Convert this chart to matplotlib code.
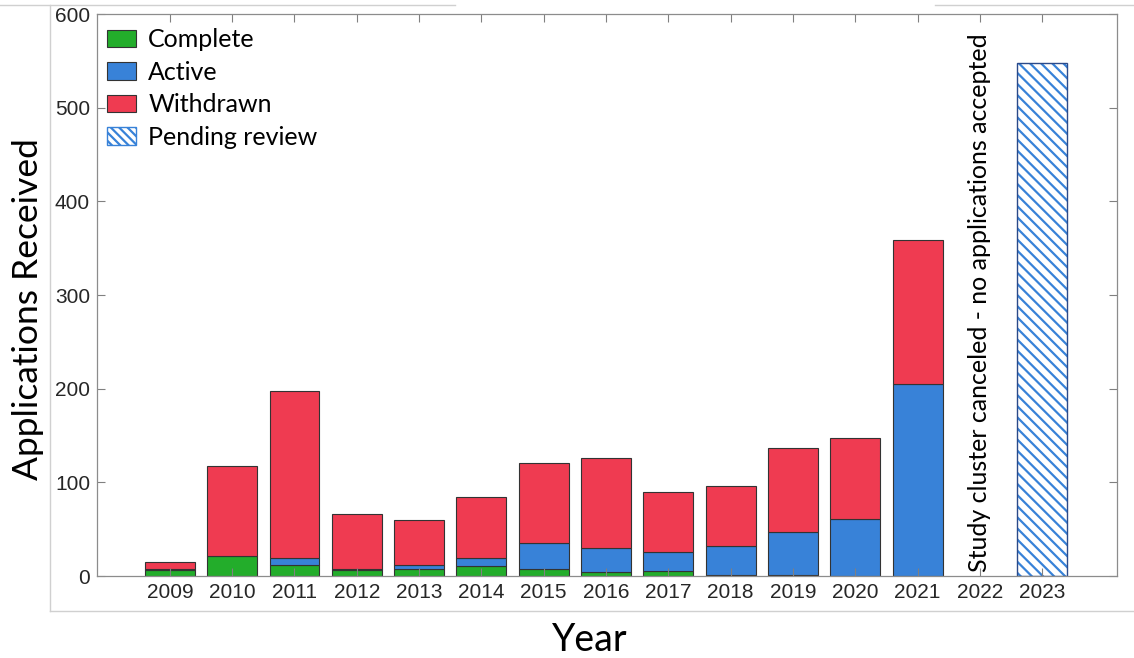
import numpy as np
import matplotlib
matplotlib.use('Agg')
import matplotlib.pyplot as plt
from matplotlib.lines import Line2D
from matplotlib.patches import Patch

# Values
years = [2009, 2010, 2011, 2012, 2013, 2014, 2015, 2016, 2017, 2018, 2019, 2020, 2021, 2022, 2023]
complete = [6, 21, 12, 6, 8, 11, 8, 4, 5, 1, 1, 0, 0, 0, 0]
active = [1, 0, 7, 1, 4, 8, 27, 26, 21, 31, 46, 61, 205, 0, 0]
withdrawn = [8, 96, 178, 59, 48, 65, 86, 96, 64, 64, 90, 86, 154, 0, 0]
pending = [0, 0, 0, 0, 0, 0, 0, 0, 0, 0, 0, 0, 0, 0, 548]
note_year = 2022
note_text = 'Study cluster canceled - no applications accepted'

green = '#23ad2b'
blue = '#3882d8'
red = '#ef3b51'
edge = '#333333'
label_font = 'Lato'

plt.rcParams['font.family'] = ['Liberation Sans', 'DejaVu Sans']
plt.rcParams['hatch.linewidth'] = 1.6

x = np.array(years)
complete = np.array(complete)
active = np.array(active)
withdrawn = np.array(withdrawn)
pending = np.array(pending)

fig = plt.figure(figsize=(11.34, 6.58), dpi=100)
ax = fig.add_axes([0.0855, 0.1246, 0.8995, 0.8541])

w = 0.8
m = complete > 0
hc = ax.bar(x[m], complete[m], w, color=green, edgecolor=edge, linewidth=0.8, label='Complete')
m = active > 0
ha = ax.bar(x[m], active[m], w, bottom=complete[m], color=blue, edgecolor=edge, linewidth=0.8, label='Active')
m = withdrawn > 0
hw = ax.bar(x[m], withdrawn[m], w, bottom=complete[m] + active[m], color=red, edgecolor=edge,
            linewidth=0.8, label='Withdrawn')
m = pending > 0
ax.bar(x[m], pending[m], w, color='white', edgecolor=blue, hatch='\\\\\\', linewidth=0)
ax.bar(x[m], pending[m], w, color='none', edgecolor='#2b4a8a', linewidth=1.0)

# legend proxy for the hatched bar
hp = Patch(facecolor='white', edgecolor=blue, hatch='\\\\\\\\', linewidth=1.0, label='Pending review')

leg = ax.legend(handles=[hc, ha, hw, hp], loc='upper left', bbox_to_anchor=(-0.006, 1.004),
                frameon=False, handlelength=1.15, handleheight=0.7, handletextpad=0.5,
                labelspacing=0.38, borderaxespad=0.25, prop={'family': label_font, 'size': 18})

ax.text(note_year, 4, note_text, rotation=90, ha='center', va='bottom',
        fontsize=18, family=label_font, color='black')

ax.set_xlim(2007.83, 2024.2)
ax.set_ylim(0, 600)
ax.set_xticks(years)
ax.set_yticks(range(0, 601, 100))
ax.tick_params(direction='in', length=6, width=0.8, color='#808080', top=True, right=True,
               labelsize=15, labelcolor='#262626', pad=5)
for s in ax.spines.values():
    s.set_color('#8c8c8c')
    s.set_linewidth(0.9)

fig.text(0.52, 0.028, 'Year', ha='center', va='center', fontsize=27, family=label_font)
fig.text(0.025, 0.53, 'Applications Received', rotation=90, ha='center', va='center',
         fontsize=25.5, family=label_font)

# light frame around the pasted figure
fc = '#d0d0d0'
fig.add_artist(Line2D([50 / 1134, 50 / 1134], [1 - 5 / 658, 1 - 611 / 658], color=fc, lw=1))
fig.add_artist(Line2D([50 / 1134, 1.0], [1 - 611 / 658, 1 - 611 / 658], color=fc, lw=1))
fig.add_artist(Line2D([0, 455 / 1134], [1 - 5 / 658, 1 - 5 / 658], color=fc, lw=1))
fig.add_artist(Line2D([935 / 1134, 1.0], [1 - 5 / 658, 1 - 5 / 658], color=fc, lw=1))

fig.savefig('out.png', dpi=100)
